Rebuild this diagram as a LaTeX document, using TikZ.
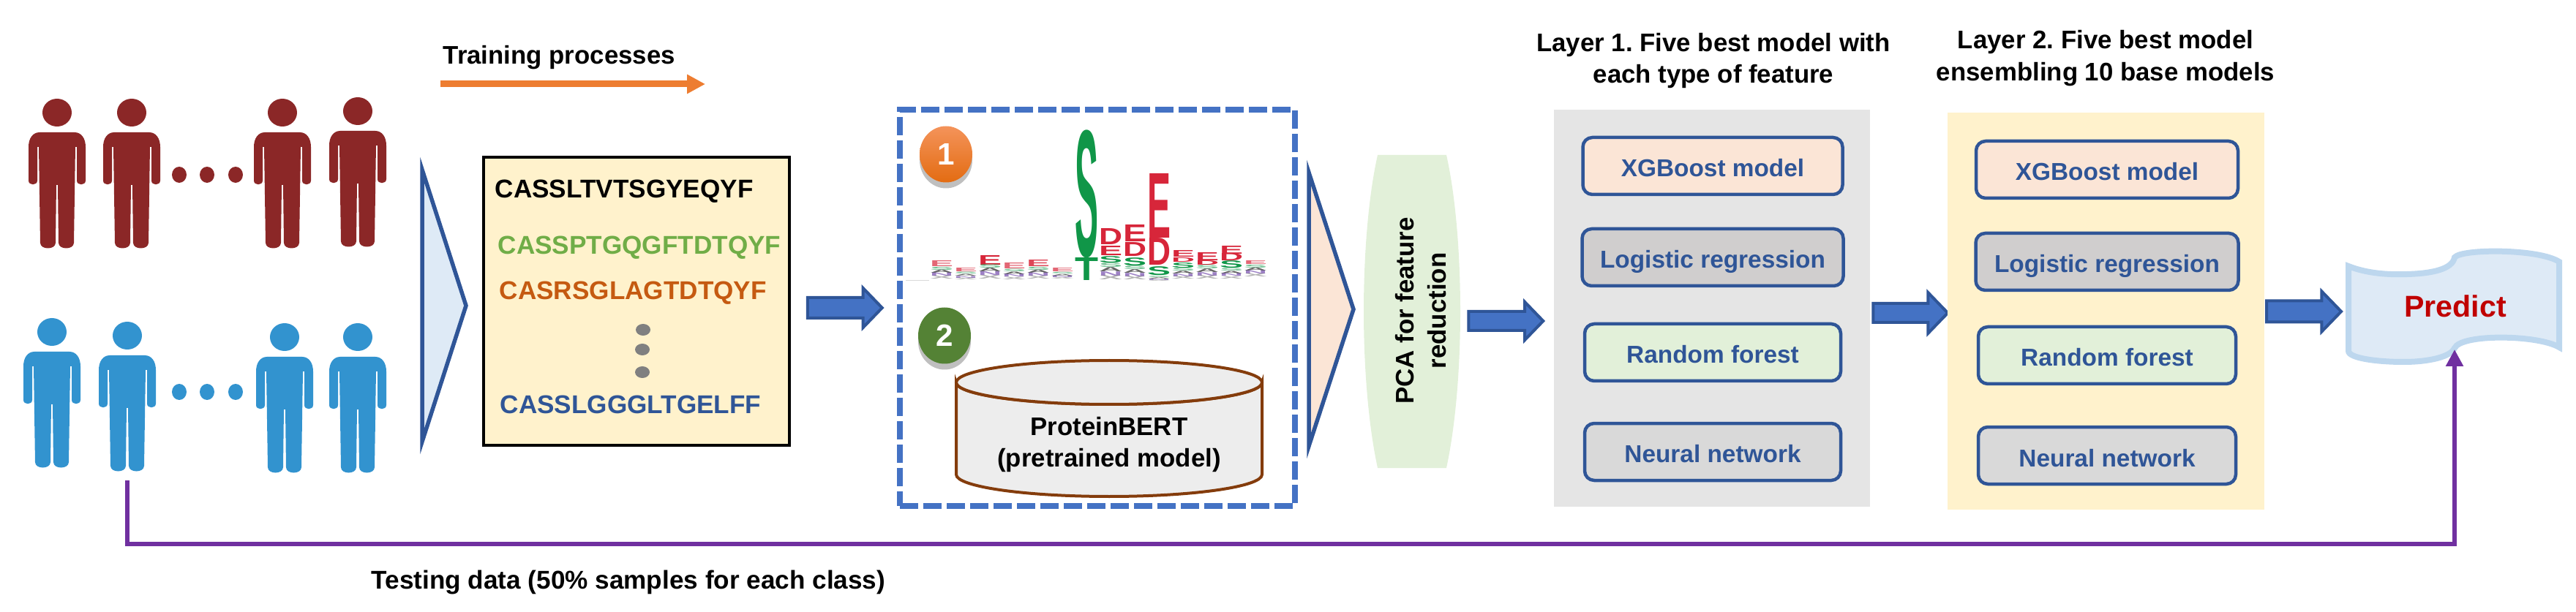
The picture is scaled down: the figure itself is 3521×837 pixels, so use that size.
\documentclass[tikz,border=0pt]{standalone}
\usepackage{fontspec}
\usepackage{graphicx}
\setmainfont{Liberation Sans}
\usetikzlibrary{arrows.meta,shapes.geometric,shapes.arrows,shadows}

\definecolor{patientred}{HTML}{8B2727}
\definecolor{patientblue}{HTML}{3293CF}
\definecolor{darkblue}{HTML}{2F5597}
\definecolor{midblue}{HTML}{4472C4}
\definecolor{paleblue}{HTML}{DEEAF6}
\definecolor{edgeblue}{HTML}{BDD7EE}
\definecolor{paleyellow}{HTML}{FFF2CC}
\definecolor{palepeach}{HTML}{FBE5D6}
\definecolor{palegreen}{HTML}{E2F0D9}
\definecolor{midgrey}{HTML}{D0CECE}
\definecolor{lightgrey}{HTML}{D9D9D9}
\definecolor{panelgrey}{HTML}{E5E5E5}
\definecolor{logored}{HTML}{D7263A}
\definecolor{logogreen}{HTML}{109648}
\definecolor{logopurple}{HTML}{5B2C9F}
\definecolor{testpurple}{HTML}{7030A0}
\definecolor{seqgreen}{HTML}{70AD47}
\definecolor{seqorange}{HTML}{C55A11}
\definecolor{trainorange}{HTML}{ED7D31}
\definecolor{badgegreen}{HTML}{548235}
\definecolor{cylbrown}{HTML}{843C0C}
\definecolor{cylgrey}{HTML}{EDEDED}
\definecolor{predictred}{HTML}{C00000}
\definecolor{badgetop}{HTML}{F4935A}
\definecolor{badgemid}{HTML}{F47B28}
\definecolor{badgelow}{HTML}{E36C12}

\tikzset{
	bold label/.style={font=\bfseries\frenchspacing\fontsize{9.9}{12.5}\selectfont,align=center,inner sep=0pt},
	seqtext/.style={font=\bfseries\fontsize{10}{12}\selectfont,anchor=west,inner sep=0pt,text height=2.5mm,text depth=0pt},
	modelbox/.style={draw=darkblue,line width=.45mm,rounded corners=1.3mm,minimum height=7.8mm,
		text=darkblue,text height=3mm,text depth=0pt,font=\bfseries\fontsize{9.5}{12}\selectfont},
	blockarrow/.style={single arrow,draw=darkblue,fill=midblue,line width=.4mm,inner sep=0pt,outer sep=0pt,
		text height=2.2mm,text depth=0pt,minimum height=10.2mm,minimum width=4.8mm,
		single arrow head extend=1.3mm,single arrow tip angle=92},
	chevron/.style={draw=darkblue,line width=.55mm},
	badge/.style={ellipse,minimum width=7.2mm,minimum height=7.7mm,inner sep=0pt,text=white,
		font=\bfseries\fontsize{12}{12}\selectfont,drop shadow={shadow xshift=0mm,shadow yshift=-.8mm,opacity=.25,fill=black}},
	logoglyph/.style={anchor=north west,inner sep=0pt,outer sep=0pt},
	pics/person/.style={code={
		\path[pic actions] (0,19) ellipse [x radius=20,y radius=19];
		\path[pic actions] (-39,112) -- (-39,66) .. controls (-39,54) and (-33,46) .. (-24,46) -- (24,46)
			.. controls (33,46) and (39,54) .. (39,66) -- (39,112) .. controls (39,119) and (27,119) .. (27,112)
			-- (27,66) -- (25,66) -- (23,197) .. controls (23,207) and (2,207) .. (2,197) -- (1,118) -- (-1,118)
			-- (-2,197) .. controls (-2,207) and (-23,207) .. (-23,197) -- (-25,66) -- (-27,66) -- (-27,112)
			.. controls (-27,119) and (-39,119) .. (-39,112) -- cycle;
	}}
}

\begin{document}
\begin{tikzpicture}[x=.1mm,y=-.1mm]

	\useasboundingbox (0,0) rectangle (3521,837);

	\foreach \n/\px/\py in {1/78/135,2/180/135,3/386/135,4/489/133}
		\pic[fill=patientred] (redperson\n) at (\px,\py) {person};
	\foreach \n/\px/\py in {1/71/435,2/174/440,3/389/442,4/489/442}
		\pic[fill=patientblue] (blueperson\n) at (\px,\py) {person};
	\foreach \n/\px in {1/245,2/283,3/322} {
		\fill[patientred] (\px,239) ellipse [x radius=10,y radius=11];
		\fill[patientblue] (\px,536) ellipse [x radius=10,y radius=11];
	}

	\node[bold label,anchor=west] (trainlabel) at (605,79) {Training processes};
	\coordinate (trainstart) at (602,115);
	\coordinate (trainend) at (964,115);
	\draw[-{Triangle[length=2.5mm,width=2.5mm]},line width=.9mm,color=trainorange] (trainstart) -- (trainend);

	\draw[chevron,fill=paleblue] (577,232) -- (637,418) -- (577,604) -- cycle;

	\node[draw=black,line width=.4mm,fill=paleyellow,minimum width=41.8mm,minimum height=39.4mm,inner sep=0pt] (seqbox) at (870,412) {};
	\node[seqtext,text=black] (seq1) at (676,258) {CASSLTVTSGYEQYF};
	\node[seqtext,text=seqgreen] (seq2) at (680,335) {CASSPTGQGFTDTQYF};
	\node[seqtext,text=seqorange] (seq3) at (682,397) {CASRSGLAGTDTQYF};
	\node[seqtext,text=darkblue] (seq4) at (683,553) {CASSLGGGLTGELFF};
	\foreach \px/\py in {879/451,878/478,878/509}
		\fill[gray] (\px,\py) ellipse [x radius=10,y radius=8];

	\node[blockarrow,text height=2.4mm] (arrowa) at (1148,421) {};

	\node[draw=midblue,line width=.87mm,dash pattern=on 2.5mm off .7mm,minimum width=54mm,minimum height=54.2mm,inner sep=0pt] (featbox) at (1500,421) {};

	\node[badge,top color=badgetop,middle color=badgemid,bottom color=badgelow] (badgea) at (1293,211) {1};
	\node[badge,fill=badgegreen] (badgeb) at (1291,459) {2};

	\foreach \n/\gx/\gtop/\gbot/\gcol/\gl in {
		1/1469/178/353/logogreen/S,2/1469/353/384/logogreen/T,
		3/1502/313/335/logored/D,4/1502/336/349/logored/E,5/1502/351/360/logogreen/S,
		6/1535/308/331/logored/E,7/1535/332/351/logored/D,8/1535/353/364/logogreen/S,
		9/1568/237/325/logored/E,10/1568/326/363/logored/D,11/1568/365/377/logogreen/S,
		12/1601/343/352/logored/E,13/1601/353/359/logored/D,14/1601/360/367/logogreen/S,
		15/1634/346/357/logored/E,16/1634/357/363/logored/D,
		17/1667/336/347/logored/E,18/1667/347/357/logored/D,19/1667/357/367/logogreen/S,
		20/1337/349/362/logored/E,21/1271/357/365/logored!70/E,22/1370/360/368/logored!70/E,
		23/1403/356/365/logored!85/E,24/1304/367/372/logored!70/E,25/1436/367/372/logored!70/E,26/1700/357/362/logored!70/E} {
		\pgfmathsetmacro{\gh}{.1*(\gbot-\gtop)}
		\node[logoglyph,text=\gcol] (glyph\n) at (\gx,\gtop) {\resizebox*{3.2mm}{\gh mm}{\bfseries\gl}};
	}
	\foreach \gx/\gtop/\gbot in {1271/365/382,1304/372/382,1337/362/382,1370/368/382,1403/365/382,1436/372/381,
		1502/360/383,1535/364/383,1568/377/384,1601/367/382,1634/363/382,1667/367/381,1700/362/379} {
		\foreach \gi/\gcol/\gl in {0/logogreen/S,1/black/A,2/logopurple/N,3/gray/X} {
			\pgfmathsetmacro{\gh}{.025*(\gbot-\gtop)}
			\pgfmathsetmacro{\gy}{\gtop+\gi*(\gbot-\gtop)/4}
			\node[logoglyph,text=\gcol,opacity=.6] (band\gx-\gi) at (\gx,\gy) {\resizebox*{3.2mm}{\gh mm}{\bfseries\gl}};
		}
	}
	\draw[lightgrey,line width=.1mm] (1238,384) -- (1270,384);

	\draw[draw=cylbrown,fill=cylgrey,line width=.4mm] (1307,523) -- (1307,649) arc [start angle=180,end angle=0,x radius=209,y radius=30]
		-- (1725,523) arc [start angle=0,end angle=180,x radius=209,y radius=30] -- cycle;
	\draw[draw=cylbrown,fill=cylgrey,line width=.4mm] (1516,523) ellipse [x radius=209,y radius=30];
	\node[bold label] (berttext) at (1516,608) {ProteinBERT\\(pretrained model)};

	\draw[chevron,fill=palepeach] (1789,236) -- (1850,423) -- (1789,610) -- cycle;

	\fill[palegreen] (1883,212) -- (1977,212) .. controls (1990,270) and (1996,350) .. (1996,426)
		.. controls (1996,500) and (1990,580) .. (1977,640) -- (1883,640)
		.. controls (1870,580) and (1864,500) .. (1864,426) .. controls (1864,350) and (1870,270) .. (1883,212) -- cycle;
	\node[bold label,rotate=90] (pcatext) at (1942,425) {PCA for feature\\reduction};

	\node[blockarrow] (arrowb) at (2052,439) {};

	\node[bold label] (layeratitle) at (2342,83) {Layer 1. Five best model with\\each type of feature};
	\fill[panelgrey] (2124,150) rectangle (2556,693);
	\foreach \n/\by/\bw/\bcol/\btxt in {
		xgb/227/35.5/palepeach/XGBoost model,
		lr/352/35.7/midgrey/Logistic regression,
		rf/482/35/palegreen/Random forest,
		nn/618/35/lightgrey/Neural network}
		\node[modelbox,fill=\bcol,minimum width=\bw mm] (a\n) at (2341,\by) {\btxt};

	\node[blockarrow,minimum width=5.2mm,single arrow head extend=1.5mm] (arrowc) at (2605,428) {};

	\node[bold label] (layerbtitle) at (2878,80) {Layer 2. Five best model\\ensembling 10 base models};
	\fill[paleyellow] (2662,154) rectangle (3095,697);
	\foreach \n/\by/\bw/\bcol/\btxt in {
		xgb/232/35.8/palepeach/XGBoost model,
		lr/358/35.9/midgrey/Logistic regression,
		rf/486/35.2/palegreen/Random forest,
		nn/623/35.2/lightgrey/Neural network}
		\node[modelbox,fill=\bcol,minimum width=\bw mm] (b\n) at (2880,\by) {\btxt};

	\node[blockarrow,text height=2.5mm,minimum width=5mm,single arrow head extend=1.3mm] (arrowd) at (3142,426) {};

	\draw[edgeblue,fill=paleblue,line width=.8mm] (3210,364) .. controls (3235,374) and (3265,376) .. (3290,375)
		.. controls (3325,374) and (3352,368) .. (3355,352) .. controls (3365,340) and (3470,340) .. (3498,358)
		-- (3498,475) .. controls (3470,458) and (3365,456) .. (3355,476) .. controls (3350,488) and (3320,495) .. (3285,495)
		.. controls (3250,495) and (3210,490) .. (3210,480) -- cycle;
	\node[font=\bfseries\fontsize{11.7}{12}\selectfont,text=predictred,inner sep=0pt] (predict) at (3356,419) {Predict};

	\coordinate (testin) at (174,657);
	\coordinate (testbend) at (3355,744);
	\coordinate (predictin) at (3355,478);
	\draw[-{Triangle[length=2.3mm,width=2.3mm]},line width=.55mm,color=testpurple] (testin) |- (testbend) -- (predictin);
	\node[bold label,anchor=west,font=\bfseries\fontsize{10}{12}\selectfont] (testlabel) at (507,796) {Testing data (50\% samples for each class)};

\end{tikzpicture}
\end{document}
